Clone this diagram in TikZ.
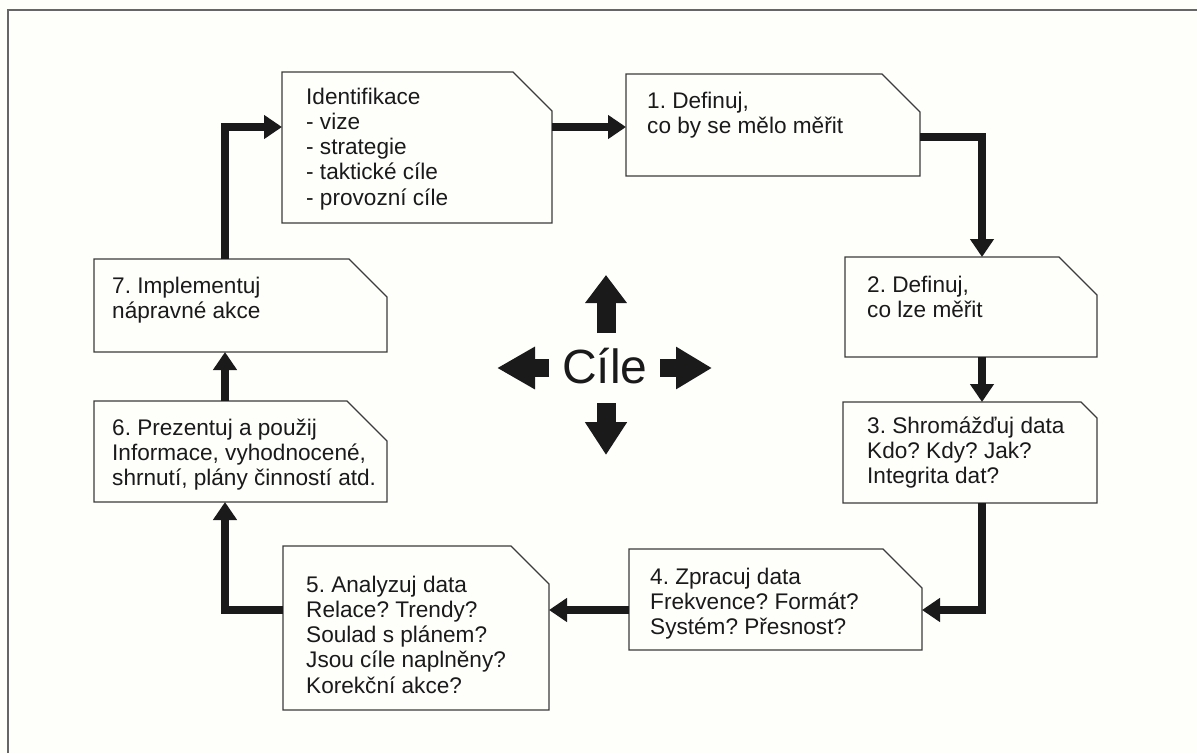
\documentclass[tikz,border=0pt]{standalone}
\usepackage{fontspec}
\setmainfont{Liberation Sans}
\usetikzlibrary{arrows.meta,fit}
\definecolor{ink}{HTML}{1A1A1A}
\definecolor{paper}{HTML}{FEFEFB}
\frenchspacing
\tikzset{
  boxarea/.style={inner sep=0pt, outer sep=0pt},
  boxline/.style={draw=ink!85, line width=1.4pt, line join=miter},
  boxtext/.style={inner sep=0pt, anchor=base west, align=left, text=ink,
    font=\fontsize{22.6}{25.3}\selectfont\frenchspacing},
  conn/.style={draw=ink, line width=8pt, line join=miter,
    -{Triangle[length=18pt,width=23pt]}},
  bigarrow/.style={draw=ink, -{Triangle[length=#1,width=40pt]}},
}
\newcommand\foldbox[6]{%
  \node[boxarea, fit={(#2,#3) (#4,#5)}] (#1) {};
  \draw[boxline] (#1.south west) -- (#1.north west) -- ([xshift=-#6pt]#1.north east)
    -- ([yshift=-#6pt]#1.north east) -- (#1.south east) -- cycle;
}
\begin{document}
\begin{tikzpicture}[x=1pt,y=-1pt]
\fill[paper] (0,0) rectangle (1197,753);
\useasboundingbox (0,0) rectangle (1197,753);
\draw[black!60, line width=2pt] (8,753) -- (8,10) -- (1197,10);

\foldbox{b0}{282}{72}{552}{223}{39}
\foldbox{b1}{626}{74}{920}{176}{38}
\foldbox{b2}{845}{257}{1097}{357}{38}
\foldbox{b3}{843}{402}{1097}{503}{16}
\foldbox{b4}{629}{549}{922}{650}{39}
\foldbox{b5}{283}{546}{549}{710}{38}
\foldbox{b6}{94}{401}{387}{502}{40}
\foldbox{b7}{94}{259}{387}{352}{38}

% anchor=base of a multi-line node is the baseline of its last line
\node[boxtext] (t0) at (306,205.2) {Identifikace\\- vize\\- strategie\\- taktické cíle\\- provozní cíle};
\node[boxtext] (t1) at (647,133.3) {1. Definuj,\\co by se mělo měřit};
\node[boxtext] (t2) at (867,317.3) {2. Definuj,\\co lze měřit};
\node[boxtext] (t3) at (867,483.6) {3. Shromážďuj data\\Kdo? Kdy? Jak?\\Integrita dat?};
\node[boxtext] (t4) at (650,634.6) {4. Zpracuj data\\Frekvence? Formát?\\Systém? Přesnost?};
\node[boxtext] (t5) at (306,693.2) {5. Analyzuj data\\Relace? Trendy?\\Soulad s plánem?\\Jsou cíle naplněny?\\Korekční akce?};
\node[boxtext] (t6) at (112,485.6) {6. Prezentuj a použij\\Informace, vyhodnocené,\\shrnutí, plány činností atd.};
\node[boxtext] (t7) at (112,318.3) {7. Implementuj\\nápravné akce};

\coordinate (p0) at (225,127);
\coordinate (p1) at (982,137);
\coordinate (p2) at (982,610);

\draw[conn] (b7.north -| p0) |- (b0.west |- p0);
\draw[conn] (b0.east |- p0) -- (b1.west |- p0);
\draw[conn] (b1.east |- p1) -| (b2.north -| p1);
\draw[conn] (b2.south -| p1) -- (b3.north -| p1);
\draw[conn] (b3.south -| p2) |- (b4.east |- p2);
\draw[conn] (b4.west |- p2) -- (b5.east |- p2);
\draw[conn] (b5.west |- p2) -| (b6.south -| p0);
\draw[conn] (b6.north -| p0) -- (b7.south -| p0);

\node[inner sep=0pt, anchor=base, text=ink, font=\fontsize{48}{52}\selectfont] (cile) at (605,383) {Cíle};
\coordinate (cu0) at (606,333); \coordinate (cu1) at (606,275);
\coordinate (cd0) at (606,403); \coordinate (cd1) at (606,455);
\coordinate (cl0) at (549,368); \coordinate (cl1) at (497,368);
\coordinate (cr0) at (660,368); \coordinate (cr1) at (712,368);
\draw[bigarrow=28pt, line width=19pt] (cu0) -- (cu1);
\draw[bigarrow=33pt, line width=19pt] (cd0) -- (cd1);
\draw[bigarrow=38pt, line width=18pt] (cl0) -- (cl1);
\draw[bigarrow=36pt, line width=18pt] (cr0) -- (cr1);
\end{tikzpicture}
\end{document}
